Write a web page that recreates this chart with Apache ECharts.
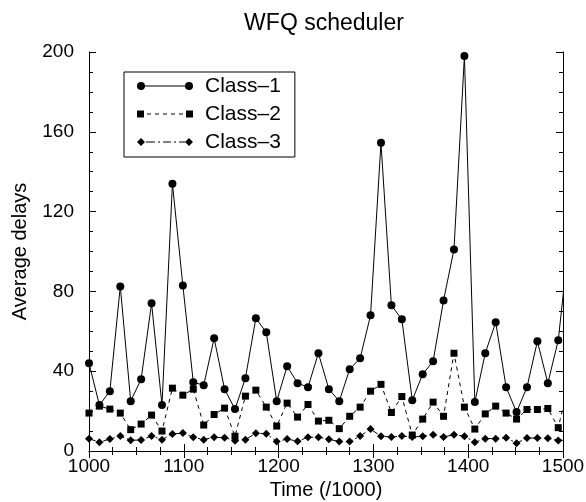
<!DOCTYPE html>
<html>
<head>
<meta charset="utf-8">
<script src="https://cdn.jsdelivr.net/npm/echarts@6/dist/echarts.min.js"></script>
<style>
  html, body { margin: 0; padding: 0; background: #fff; }
  #chart { width: 586px; height: 502px; }
</style>
</head>
<body>
<div id="chart"></div>
<script>
// time axis (x / 1000), one sample per step; last one lies past 1500 and gets clipped
const times = [1000, 1011, 1022, 1033, 1044, 1055, 1066, 1077, 1088, 1099,
  1110, 1121, 1132, 1143, 1154, 1165, 1176, 1187, 1198, 1209,
  1220, 1231, 1242, 1253, 1264, 1275, 1286, 1297, 1308, 1319,
  1330, 1341, 1352, 1363, 1374, 1385, 1396, 1407, 1418, 1429,
  1440, 1451, 1462, 1473, 1484, 1495, 1506]

const class1 = [44, 23, 30, 82.5, 25, 36, 74, 23, 134, 83,
  34.5, 33, 56.5, 31, 21, 36.5, 66.5, 59.5, 25, 42.5,
  34, 32, 49, 31, 25, 41, 46.5, 68, 154.5, 73,
  66, 25.5, 38.5, 45, 75.5, 101, 198, 24.5, 49, 64.5,
  32, 19.5, 32, 55, 34, 55.5, 104]

const class2 = [19, 22.5, 21, 19, 10.7, 13.5, 18, 10, 31.5, 28,
  31, 13, 18.3, 21.5, 7.4, 27.5, 30.5, 22, 12.5, 24,
  17, 23.3, 15, 15.4, 11.2, 17.4, 22, 30, 33.4, 19.3,
  27.3, 8, 16, 24.5, 17.4, 49, 22, 11, 18.6, 22.5,
  19, 16, 20.8, 20.8, 21.3, 11.7, 34]

const class3 = [6.2, 4.4, 6, 7.5, 5.4, 5.5, 7.5, 5.7, 8.5, 9,
  6.9, 5.7, 6.9, 6.7, 5.2, 5.7, 8.9, 8.7, 4.7, 6,
  4.9, 6.9, 6.9, 5.9, 4.7, 4.7, 7.5, 11, 7.4, 7,
  7.5, 7, 7.4, 8.1, 7, 8.2, 7.4, 4.4, 6.2, 6.2,
  6.7, 3.9, 6.5, 6.5, 6.4, 5.3, 5.5]

const seriesNames = ['Class–1', 'Class–2', 'Class–3']
const xTicks = [1000, 1500, 100]   // min, max, step
const yTicks = [0, 200, 40]

const FONT = '"Liberation Sans", Arial, Helvetica, sans-serif'

// legend icons: marker - line pattern - marker, in a 56x8 box
const icons = [
  'path://M0,4A4,4,0,1,1,8,4A4,4,0,1,1,0,4Z M8,3.5H48V4.5H8Z M48,4A4,4,0,1,1,56,4A4,4,0,1,1,48,4Z',
  'path://M0,0.5H7V7.5H0Z M10,3.5H14V4.5H10Z M18,3.5H22V4.5H18Z M26,3.5H30V4.5H26Z M34,3.5H38V4.5H34Z M42,3.5H46V4.5H42Z M49,0.5H56V7.5H49Z M0,0H0.01V8H0Z',
  'path://M0,4L4,0L8,4L4,8Z M9,3.5H18V4.5H9Z M21,3.5H23V4.5H21Z M26,3.5H34V4.5H26Z M37,3.5H39V4.5H37Z M42,3.5H48V4.5H42Z M48,4L52,0L56,4L52,8Z'
]

const pairs = (ys) => times.map((t, i) => [t, ys[i]])

const chart = echarts.init(document.getElementById('chart'), null, { renderer: 'canvas' })

const axisCommon = {
  type: 'value',
  axisLine: { show: true, lineStyle: { color: '#000', width: 1 } },
  axisTick: { show: true, inside: true, length: 7, lineStyle: { color: '#000' } },
  minorTick: { show: true, splitNumber: 4, length: 4, lineStyle: { color: '#000' } },
  splitLine: { show: false },
  minorSplitLine: { show: false }
}

chart.setOption({
  animation: false,
  backgroundColor: '#fff',
  textStyle: { fontFamily: FONT, color: '#000' },
  title: {
    text: 'WFQ scheduler',
    left: 324,
    top: 12,
    padding: 0,
    textAlign: 'center',
    textStyle: { fontFamily: FONT, fontSize: 23, fontWeight: 'normal', color: '#000' }
  },
  grid: { left: 89, right: 23, top: 52, bottom: 51, containLabel: false, outerBoundsMode: 'none' },
  legend: {
    orient: 'vertical',
    left: 124,
    top: 72,
    padding: [3.5, 14, 4.5, 13],
    itemGap: 7,
    itemWidth: 56,
    itemHeight: 8,
    borderColor: '#000',
    borderWidth: 1,
    backgroundColor: '#fff',
    selectedMode: false,
    textStyle: { fontFamily: FONT, fontSize: 21, color: '#000', padding: [0, 0, 0, 7] },
    data: seriesNames.map((n, i) => ({ name: n, icon: icons[i] }))
  },
  xAxis: [
    Object.assign({}, axisCommon, {
      position: 'bottom',
      min: xTicks[0], max: xTicks[1], interval: xTicks[2],
      name: 'Time (/1000)',
      nameLocation: 'middle',
      nameGap: 28,
      nameTextStyle: { fontFamily: FONT, fontSize: 20, color: '#000' },
      axisLabel: { fontFamily: FONT, fontSize: 19, color: '#000', margin: 6, formatter: (v) => String(v) }
    }),
    Object.assign({}, axisCommon, {
      position: 'top',
      min: xTicks[0], max: xTicks[1], interval: xTicks[2],
      axisLabel: { show: false }
    })
  ],
  yAxis: [
    Object.assign({}, axisCommon, {
      position: 'left',
      min: yTicks[0], max: yTicks[1], interval: yTicks[2],
      name: 'Average delays',
      nameLocation: 'middle',
      nameGap: 59,
      nameTextStyle: { fontFamily: FONT, fontSize: 20, color: '#000' },
      axisLabel: { fontFamily: FONT, fontSize: 19, color: '#000', margin: 15 }
    }),
    Object.assign({}, axisCommon, {
      position: 'right',
      min: yTicks[0], max: yTicks[1], interval: yTicks[2],
      axisLabel: { show: false }
    })
  ],
  series: [
    {
      name: seriesNames[0],
      type: 'line',
      data: pairs(class1),
      clip: true,
      symbol: 'circle',
      symbolSize: 8,
      itemStyle: { color: '#000' },
      lineStyle: { color: '#000', width: 1, type: 'solid' },
      z: 4
    },
    {
      name: seriesNames[1],
      type: 'line',
      data: pairs(class2),
      clip: true,
      symbol: 'rect',
      symbolSize: 7,
      itemStyle: { color: '#000' },
      lineStyle: { color: '#000', width: 1, type: [4, 4] },
      z: 3
    },
    {
      name: seriesNames[2],
      type: 'line',
      data: pairs(class3),
      clip: true,
      symbol: 'diamond',
      symbolSize: [8, 8],
      itemStyle: { color: '#000' },
      lineStyle: { color: '#000', width: 1, type: [7, 3, 2, 3] },
      z: 2
    }
  ]
})

window.addEventListener('resize', () => chart.resize())
</script>
</body>
</html>
